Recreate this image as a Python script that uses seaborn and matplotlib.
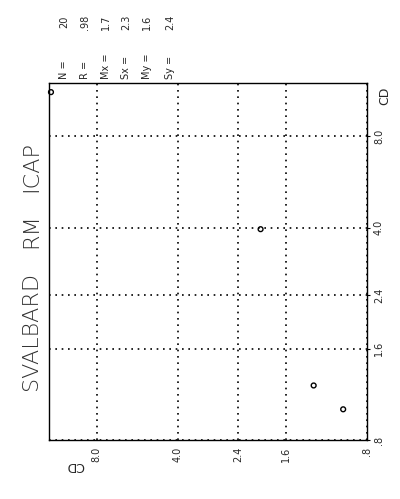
import matplotlib
matplotlib.use("Agg")
import matplotlib.pyplot as plt
import seaborn as sns
import pandas as pd

# Paired CD values (horizontal / vertical), log-log scatter
cd_x = [11.8, 1.98, 1.26, 0.98]
cd_y = [11.2, 3.96, 1.21, 1.01]

tick_values = [0.8, 1.6, 2.4, 4.0, 8.0]
tick_labels = [".8", "1.6", "2.4", "4.0", "8.0"]

stat_names = ["N =", "R =", "Mx =", "Sx =", "My =", "Sy ="]
stat_values = ["20", ".98", "1.7", "2.3", "1.6", "2.4"]

title_words = ["SVALBARD", "RM", "ICAP"]

sns.set_style("white")
plt.rcParams["font.family"] = ["DejaVu Sans"]

fig = plt.figure(figsize=(4.0, 4.99), dpi=100)
ax = fig.add_axes([0.1225, 0.1182, 0.795, 0.7154])

df = pd.DataFrame({"x": cd_x, "y": cd_y})
sns.scatterplot(data=df, x="x", y="y", ax=ax, marker="o", s=12,
                facecolor="none", edgecolor="black", linewidth=1.0,
                clip_on=False, zorder=5)

ax.set_xscale("log")
ax.set_yscale("log")
ax.set_xlim(12, 0.8)
ax.set_ylim(0.8, 12)

ax.xaxis.set_minor_locator(matplotlib.ticker.NullLocator())
ax.yaxis.set_minor_locator(matplotlib.ticker.NullLocator())
ax.set_xticks(tick_values)
ax.set_xticklabels(tick_labels, rotation=90, fontsize=7)
ax.set_yticks(tick_values)
ax.set_yticklabels(tick_labels, rotation=90, fontsize=7, va="center")
ax.yaxis.tick_right()
ax.tick_params(axis="both", length=2, width=0.8, color="black", pad=3)
ax.set_xlabel("")
ax.set_ylabel("")

ax.grid(True, which="major", linestyle=(0, (1, 2.8)), color="black", linewidth=1.2)
for sp in ax.spines.values():
    sp.set_color("black")
    sp.set_linewidth(1.0)

# Rotated title, one word at a time
title_y = [331, 231, 167]
for word, py in zip(title_words, title_y):
    fig.text(31 / 400, 1 - py / 499, word, rotation=90, fontsize=16,
             ha="center", va="center", color="#333333", fontweight="light")

# Summary statistics block
stat_x = [64, 85, 106, 126, 147, 170]
for name, val, px in zip(stat_names, stat_values, stat_x):
    fig.text(px / 400, 1 - 79 / 499, name, rotation=90, fontsize=7,
             ha="center", va="bottom")
    fig.text(px / 400, 1 - 22 / 499, val, rotation=90, fontsize=7,
             ha="center", va="center")

# Axis captions
fig.text(385 / 400, 1 - 96 / 499, "CD", rotation=90, fontsize=9,
         ha="center", va="center")
fig.text(75 / 400, 1 - 466 / 499, "CD", rotation=180, fontsize=9,
         ha="center", va="center")

fig.savefig("out.png", dpi=100)
